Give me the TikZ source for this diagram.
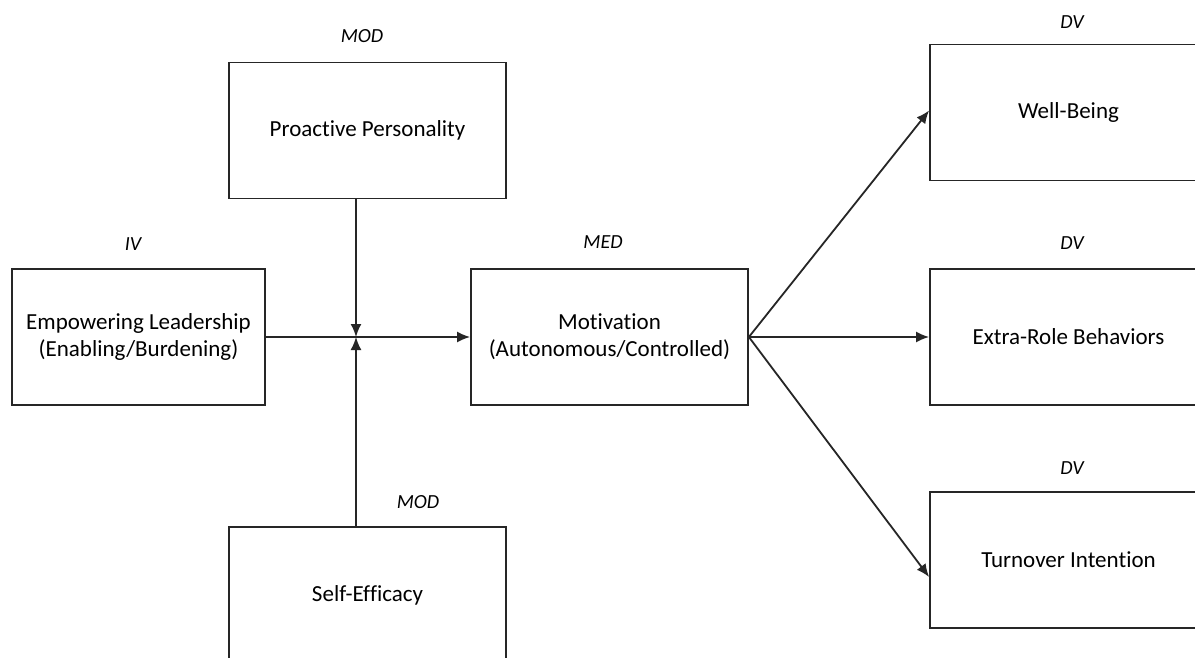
\documentclass[tikz,border=0pt]{standalone}
\usepackage{fontspec}
\setmainfont{Carlito}[Ligatures=NoCommon]
\usepackage{tikz}
\usetikzlibrary{calc,shapes,arrows.meta}

\tikzset{
    box/.style={draw=black!85, line width=1.8pt, rectangle, align=center,
        minimum width=277pt, minimum height=136pt, inner sep=0pt,
        font=\fontsize{23}{27}\selectfont},
    tag/.style={font=\fontsize{20}{22}\selectfont\itshape, inner sep=0pt},
    conn/.style={draw=black!85, line width=1.8pt, -{Latex[length=13pt,width=11pt]}}
}

\begin{document}
\begin{tikzpicture}[x=1pt,y=-1pt]
        \clip (0,0) rectangle (1195,658);
        \fill[white] (0,0) rectangle (1195,658);
        % boxes
        \node[box, minimum width=253pt] (emp) at (138.5,337) {Empowering Leadership\\(Enabling/Burdening)};
        \node[box] (pro) at (367.5,130.5) {Proactive Personality};
        \node[box] (self) at (367.5,595) {Self-Efficacy};
        \node[box] (mot) at (609.5,337) {Motivation\\(Autonomous/Controlled)};
        \node[box] (wb) at (1068.5,112.5) {Well-Being};
        \node[box] (erb) at (1068.5,337) {Extra-Role Behaviors};
        \node[box] (tur) at (1068.5,560) {Turnover Intention};
        % labels
        \node[tag] (empTag) at (133,244) {IV};
        \node[tag] (proTag) at (362,36) {MOD};
        \node[tag] (selfTag) at (418,502) {MOD};
        \node[tag] (motTag) at (603,242) {MED};
        \node[tag] (wbTag) at (1072,22) {DV};
        \node[tag] (erbTag) at (1072,243) {DV};
        \node[tag] (turTag) at (1072,468) {DV};
        % arrows
        \coordinate (junc) at (356,337);
        \draw[conn] (emp.east) -- (mot.west);
        \draw[conn] (pro.south -| junc) -- (junc);
        \draw[conn] (self.north -| junc) -- (junc);
        \draw[conn] (mot.east) -- ([yshift=2pt]wb.west);
        \draw[conn] (mot.east) -- (erb.west);
        \draw[conn] (mot.east) -- ([yshift=-17pt]tur.west);
    \end{tikzpicture}
\end{document}
